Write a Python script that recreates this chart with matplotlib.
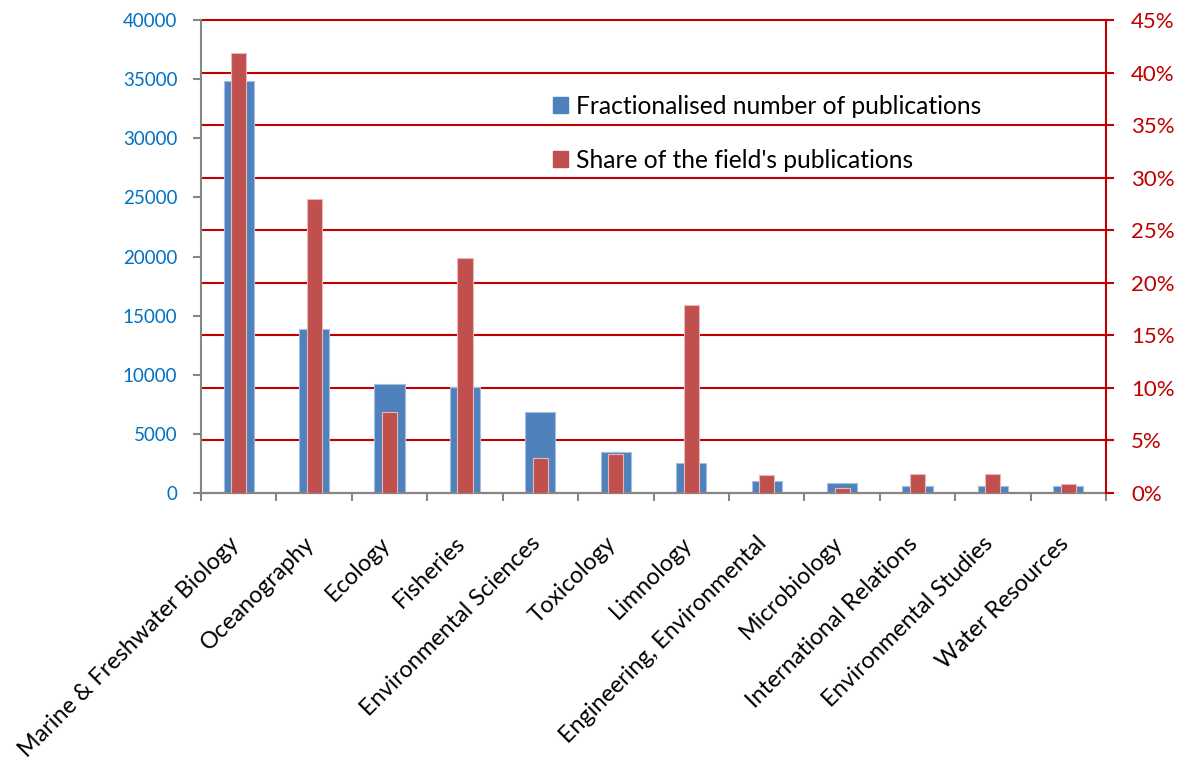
import matplotlib
matplotlib.use("Agg")
import matplotlib.pyplot as plt
import numpy as np
from matplotlib.patches import Patch
import matplotlib.transforms as mtransforms

categories = ["Marine & Freshwater Biology", "Oceanography", "Ecology", "Fisheries",
              "Environmental Sciences", "Toxicology", "Limnology", "Engineering, Environmental",
              "Microbiology", "International Relations", "Environmental Studies", "Water Resources"]
publications = [34870, 13850, 9250, 8960, 6880, 3440, 2510, 1015, 820, 620, 620, 565]
share_pct = [41.9, 27.95, 7.75, 22.4, 3.3, 3.7, 17.86, 1.7, 0.5, 1.78, 1.78, 0.83]
left_ticks = list(range(0, 40001, 5000))
right_ticks = list(range(0, 46, 5))

BLUE = "#4F81BD"
RED = "#C0504D"
GRID_RED = "#C00000"
GREY = "#868686"
FONT = "Lato"
FS_LEFT = 13.5
FS_RIGHT = 16
FS_X = 16.8
FS_LEG = 17.7

plt.rcParams['font.family'] = [FONT, 'DejaVu Sans']

fig = plt.figure(figsize=(11.85, 7.6), dpi=100)
rect = [201/1185, 1-493/760, (1106-201)/1185, (493-20)/760]

# grid axes (behind the bars)
axg = fig.add_axes(rect, zorder=0)
axg.set_xlim(-0.5, len(categories)-0.5)
axg.set_ylim(0, 45)
axg.set_yticks(right_ticks)
axg.yaxis.grid(True, color=GRID_RED, linewidth=1.5)
axg.tick_params(left=False, labelleft=False, bottom=False, labelbottom=False)
for s in axg.spines.values():
    s.set_visible(False)
for gl in axg.get_ygridlines():
    gl.set_clip_on(False)

ax1 = fig.add_axes(rect, zorder=1)
ax1.patch.set_visible(False)
x = np.arange(len(categories))
ax1.bar(x, publications, width=0.4, color=BLUE, edgecolor="#A7BFDE", linewidth=0.8)
ax1.set_xlim(-0.5, len(categories)-0.5)
ax1.set_ylim(0, 40000)
ax1.set_yticks(left_ticks)
ax1.set_yticklabels([str(v) for v in left_ticks])
ax1.tick_params(axis='y', colors=GREY, labelcolor="#0070C0", labelsize=FS_LEFT,
                length=6, width=1.5, pad=11)
for s in ["top", "right"]:
    ax1.spines[s].set_visible(False)
for s in ["left", "bottom"]:
    ax1.spines[s].set_color(GREY)
    ax1.spines[s].set_linewidth(1.5)

ax2 = ax1.twinx()
ax2.bar(x, share_pct, width=0.2, color=RED, edgecolor="#E6B9B8", linewidth=0.8)
ax2.set_ylim(0, 45)
ax2.set_yticks(right_ticks)
ax2.set_yticklabels([f"{v}%" for v in right_ticks])
ax2.tick_params(axis='y', colors=GRID_RED, labelcolor=GRID_RED, labelsize=FS_RIGHT,
                length=6, width=1.5, pad=12)
for s in ["top", "left", "bottom"]:
    ax2.spines[s].set_visible(False)
ax2.spines["right"].set_color(GRID_RED)
ax2.spines["right"].set_linewidth(1.5)

# x axis: ticks at boundaries, labels at centers
ax1.set_xticks(x)
ax1.set_xticklabels(categories, rotation=45, ha="right", va="center", rotation_mode="anchor",
                    fontsize=FS_X, color="black")
ax1.tick_params(axis='x', which='major', length=0, pad=34)
ax1.set_xticks(np.arange(-0.5, len(categories)), minor=True)
ax1.tick_params(axis='x', which='minor', length=6, width=1.5, color=GREY)
offset = mtransforms.ScaledTranslation(-3/100, 0, fig.dpi_scale_trans)
for lab in ax1.get_xticklabels():
    lab.set_transform(lab.get_transform() + offset)

handles = [Patch(facecolor=BLUE, edgecolor=BLUE), Patch(facecolor=RED, edgecolor=RED)]
labels = ["Fractionalised number of publications", "Share of the field's publications"]
fig.legend(handles, labels, loc="upper left", bbox_to_anchor=(553/1185, 1-95/760),
           frameon=False, fontsize=FS_LEG, handlelength=0.62, handleheight=0.62,
           handletextpad=0.3, labelspacing=1.25, borderaxespad=0, borderpad=0)

fig.savefig("out.png", dpi=100)
